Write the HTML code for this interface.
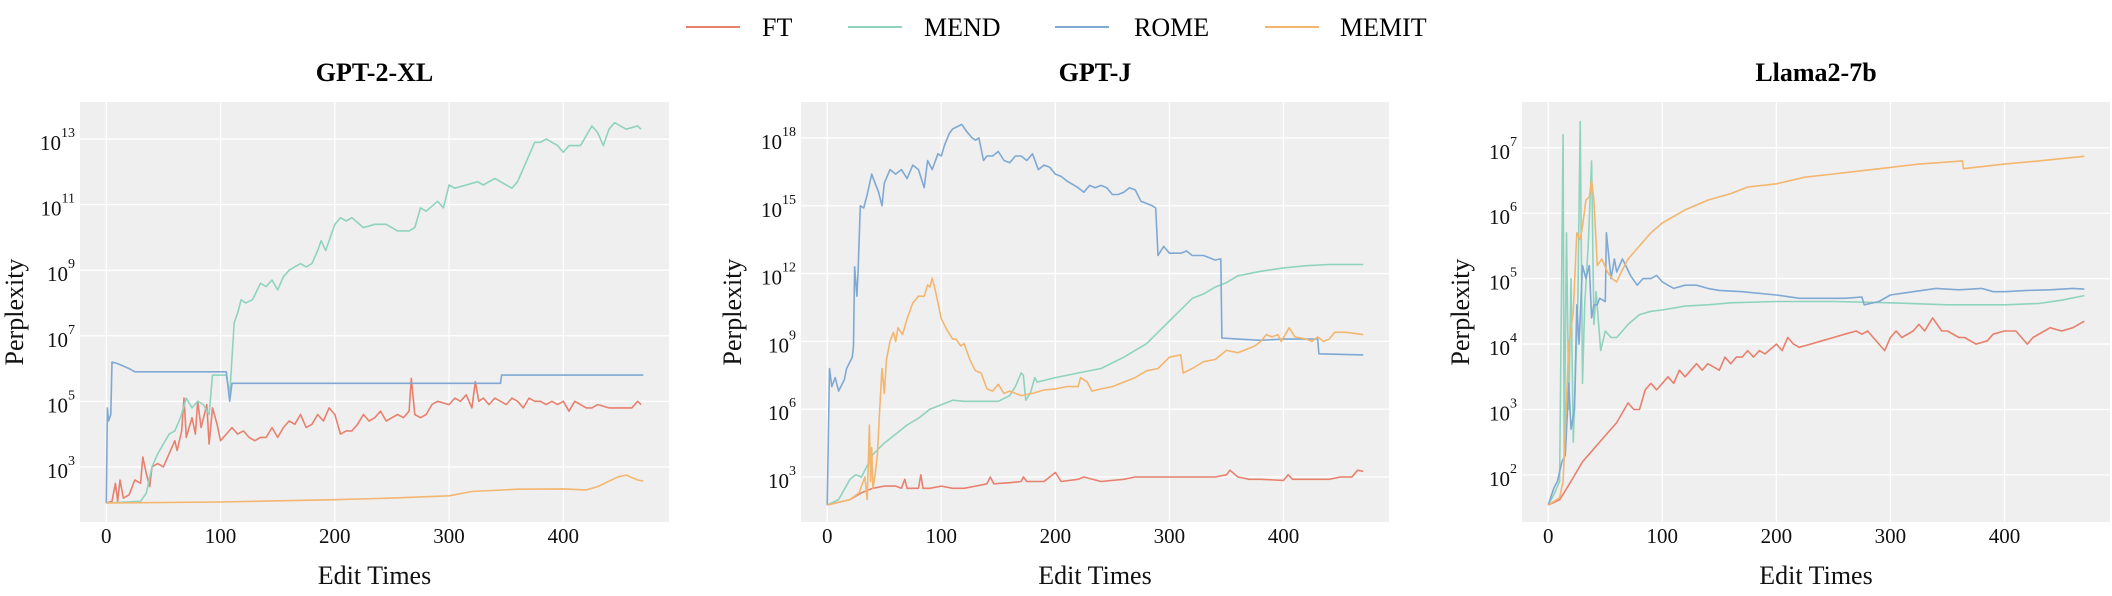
<!DOCTYPE html>
<html><head><meta charset="utf-8">
<style>
html,body{margin:0;padding:0;background:#fff;}
svg{display:block;font-family:"Liberation Serif",serif;}
</style></head>
<body>
<svg id="fig" width="2112" height="596" viewBox="0 0 2112 596" xmlns="http://www.w3.org/2000/svg">
  <g>
    <g><line x1="686" y1="27" x2="740" y2="27" stroke="#e8806e" stroke-width="2"/><text x="762" y="36" font-size="26">FT</text></g>
    <g><line x1="848" y1="27" x2="902" y2="27" stroke="#8fd3bf" stroke-width="2"/><text x="924" y="36" font-size="26">MEND</text></g>
    <g><line x1="1055" y1="27" x2="1109" y2="27" stroke="#7fa9d3" stroke-width="2"/><text x="1134" y="36" font-size="26">ROME</text></g>
    <g><line x1="1265" y1="27" x2="1319" y2="27" stroke="#f3b66f" stroke-width="2"/><text x="1340" y="36" font-size="26">MEMIT</text></g>
  </g>
</svg>
<script>
// values are log10(perplexity); each pair = [edit time, log10 value]
const xTicks = [0,100,200,300,400];
const panelTitles = ["GPT-2-XL","GPT-J","Llama2-7b"];
const yTicks1 = [3,5,7,9,11,13];
const yTicks2 = [3,6,9,12,15,18];
const yTicks3 = [2,3,4,5,6,7];
const seriesNames = ["FT","MEND","ROME","MEMIT"];

const gpt2FT = [[0,1.9],[5,1.95],[8,2.5],[10,1.95],[12,2.6],[15,2.05],[20,2.15],[25,2.6],[30,2.5],[32,3.3],[35,2.8],[38,2.4],[40,3.0],[45,3.1],[50,3.0],[55,3.4],[60,3.8],[62,3.5],[66,4.1],[68,5.1],[70,3.9],[75,4.5],[78,4.0],[80,5.0],[83,4.2],[88,4.9],[90,3.7],[93,4.8],[97,4.3],[100,3.8],[105,4.0],[110,4.2],[115,4.0],[120,4.1],[125,3.9],[130,3.8],[135,3.9],[140,3.9],[145,4.2],[150,3.9],[155,4.2],[160,4.4],[165,4.3],[170,4.6],[175,4.2],[180,4.3],[185,4.6],[190,4.4],[195,4.8],[200,4.6],[205,4.0],[210,4.1],[215,4.1],[220,4.3],[225,4.6],[230,4.4],[235,4.5],[240,4.7],[245,4.4],[250,4.5],[255,4.6],[260,4.5],[265,4.7],[267,5.7],[270,4.6],[275,4.5],[280,4.6],[285,4.9],[290,5.0],[300,4.9],[305,5.1],[310,5.0],[315,5.2],[320,4.8],[323,5.6],[326,5.0],[330,5.1],[335,4.9],[340,5.1],[345,5.0],[350,4.9],[355,5.1],[360,5.0],[365,4.8],[370,5.1],[375,5.0],[380,5.0],[385,4.9],[390,5.0],[395,4.9],[400,5.0],[405,4.7],[410,5.0],[415,4.9],[420,4.8],[425,4.8],[430,4.9],[440,4.8],[450,4.8],[460,4.8],[465,5.0],[468,4.9]];
const gpt2MEND = [[0,1.9],[30,1.95],[35,2.2],[40,3.0],[45,3.4],[50,3.7],[55,4.0],[60,4.1],[65,4.5],[70,5.1],[75,4.8],[80,5.0],[85,4.9],[90,4.6],[93,5.8],[100,5.8],[105,5.8],[108,5.2],[112,7.4],[115,7.7],[118,8.1],[122,8.0],[128,8.1],[135,8.6],[140,8.5],[145,8.7],[150,8.4],[155,8.8],[160,9.0],[170,9.2],[175,9.1],[180,9.2],[185,9.6],[188,9.9],[192,9.6],[195,9.9],[200,10.4],[205,10.6],[210,10.5],[215,10.6],[225,10.3],[235,10.4],[245,10.4],[255,10.2],[265,10.2],[270,10.3],[275,10.9],[280,10.8],[290,11.1],[295,10.9],[300,11.6],[305,11.5],[315,11.6],[325,11.7],[330,11.6],[340,11.8],[345,11.7],[355,11.5],[360,11.7],[365,12.1],[375,12.9],[380,12.9],[385,13.0],[390,12.9],[395,12.8],[400,12.6],[405,12.8],[415,12.8],[425,13.4],[430,13.2],[435,12.8],[440,13.3],[445,13.5],[450,13.4],[455,13.3],[465,13.4],[468,13.3]];
const gpt2ROME = [[0,1.9],[1,4.8],[2,4.4],[4,4.6],[5,6.2],[10,6.15],[20,6.0],[25,5.9],[105,5.9],[108,5.0],[110,5.55],[345,5.55],[346,5.8],[470,5.8]];
const gpt2MEMIT = [[0,1.9],[100,1.93],[200,2.0],[250,2.05],[300,2.12],[320,2.25],[360,2.32],[400,2.33],[420,2.3],[430,2.4],[448,2.7],[455,2.75],[465,2.6],[470,2.57]];

const gptjFT = [[0,1.76],[20,2.0],[30,2.3],[40,2.5],[50,2.6],[60,2.6],[65,2.5],[68,2.9],[70,2.5],[80,2.5],[82,3.1],[84,2.5],[90,2.5],[100,2.6],[110,2.5],[120,2.5],[130,2.6],[140,2.7],[143,3.0],[146,2.7],[160,2.75],[170,2.8],[172,3.0],[175,2.8],[190,2.8],[200,3.2],[205,2.8],[220,2.9],[225,3.0],[240,2.8],[260,2.9],[270,3.0],[290,3.0],[300,3.0],[320,3.0],[340,3.0],[350,3.1],[353,3.3],[360,3.0],[370,2.9],[380,2.9],[400,2.85],[404,3.1],[408,2.9],[420,2.9],[440,2.9],[450,3.0],[460,3.0],[465,3.3],[470,3.25]];
const gptjMEND = [[0,1.76],[10,2.0],[20,2.9],[25,3.1],[30,3.0],[35,3.5],[40,4.0],[50,4.5],[60,4.9],[70,5.3],[80,5.6],[90,6.0],[100,6.2],[110,6.4],[120,6.35],[130,6.35],[150,6.35],[160,6.6],[165,7.0],[170,7.6],[172,7.5],[174,6.4],[178,6.7],[182,7.4],[184,7.2],[200,7.4],[220,7.6],[240,7.8],[260,8.3],[280,8.9],[290,9.4],[300,9.9],[310,10.4],[320,10.9],[330,11.1],[340,11.4],[350,11.6],[360,11.9],[380,12.1],[400,12.25],[420,12.35],[440,12.4],[470,12.4]];
const gptjROME = [[0,1.76],[2,7.8],[4,7.0],[7,7.4],[10,6.8],[15,7.3],[17,7.8],[22,8.3],[23,8.8],[24,12.3],[26,11.0],[27,12.0],[29,15.0],[32,14.9],[35,15.5],[39,16.4],[42,16.0],[45,15.6],[48,15.0],[50,16.0],[55,16.6],[60,16.4],[65,16.6],[70,16.2],[75,16.8],[80,16.6],[85,15.8],[88,17.0],[92,16.6],[97,17.3],[100,17.2],[103,17.7],[107,18.2],[110,18.4],[118,18.6],[122,18.3],[127,18.0],[130,17.9],[133,18.0],[137,17.0],[140,17.2],[145,17.2],[150,17.4],[155,17.0],[160,16.9],[165,17.2],[170,17.2],[175,17.0],[180,17.3],[185,16.6],[190,16.8],[195,16.7],[200,16.4],[205,16.3],[210,16.1],[220,15.8],[225,15.6],[230,15.9],[235,15.8],[240,15.9],[245,15.8],[250,15.5],[255,15.5],[260,15.6],[265,15.8],[270,15.7],[275,15.2],[280,15.1],[285,15.0],[288,14.9],[290,12.8],[295,13.2],[300,12.9],[310,12.9],[315,13.0],[320,12.8],[330,12.8],[340,12.6],[345,12.65],[346,9.15],[360,9.1],[380,9.05],[400,9.1],[430,9.1],[431,8.45],[470,8.4]];
const gptjMEMIT = [[0,1.76],[20,2.0],[28,2.3],[30,2.6],[33,3.0],[35,2.0],[37,5.3],[38,2.8],[39,4.3],[40,2.5],[42,3.1],[44,4.0],[46,6.0],[48,7.8],[50,6.7],[52,8.2],[55,9.0],[58,9.4],[60,9.0],[62,9.6],[66,9.3],[70,10.0],[75,10.7],[80,11.0],[85,11.0],[88,11.5],[90,11.4],[92,11.8],[95,11.2],[100,10.0],[105,9.5],[110,9.1],[113,9.1],[117,8.8],[120,8.9],[125,8.2],[130,7.7],[135,7.6],[140,6.9],[145,6.8],[150,7.1],[155,6.7],[160,6.8],[165,6.7],[170,6.6],[180,6.7],[190,6.85],[200,6.9],[210,7.0],[220,7.0],[222,7.4],[228,7.2],[232,6.8],[240,6.9],[250,7.0],[260,7.2],[270,7.4],[280,7.7],[290,7.8],[300,8.3],[310,8.4],[312,7.6],[320,7.8],[330,8.1],[340,8.2],[350,8.6],[360,8.5],[370,8.7],[375,8.8],[380,9.0],[385,9.3],[390,9.2],[395,9.3],[398,9.0],[405,9.6],[410,9.2],[420,9.1],[425,9.0],[430,9.2],[435,9.0],[440,9.1],[445,9.4],[455,9.4],[470,9.3]];

const llamaFT = [[0,1.54],[10,1.62],[20,1.9],[30,2.2],[40,2.4],[50,2.6],[60,2.8],[70,3.1],[75,3.0],[80,3.0],[85,3.3],[90,3.4],[95,3.3],[100,3.4],[105,3.5],[110,3.4],[115,3.6],[120,3.5],[125,3.6],[130,3.7],[135,3.6],[140,3.7],[150,3.6],[155,3.8],[160,3.7],[165,3.8],[170,3.8],[175,3.9],[180,3.8],[185,3.9],[190,3.85],[200,4.0],[205,3.9],[210,4.1],[215,4.0],[220,3.95],[230,4.0],[240,4.05],[250,4.1],[260,4.15],[270,4.2],[275,4.15],[280,4.2],[290,4.0],[295,3.9],[300,4.1],[305,4.2],[310,4.1],[320,4.2],[325,4.3],[330,4.2],[337,4.4],[345,4.2],[350,4.2],[360,4.1],[365,4.1],[375,4.0],[385,4.05],[390,4.15],[400,4.2],[410,4.2],[420,4.0],[425,4.1],[435,4.2],[440,4.25],[450,4.2],[460,4.25],[470,4.35]];
const llamaMEND = [[0,1.54],[5,1.7],[10,1.9],[13,7.2],[14,2.3],[16,5.7],[18,3.0],[20,5.0],[22,2.5],[26,4.7],[28,7.4],[30,3.4],[32,4.6],[35,5.5],[38,6.8],[40,4.3],[42,4.8],[46,3.9],[50,4.2],[55,4.1],[60,4.1],[65,4.2],[70,4.3],[80,4.45],[90,4.5],[100,4.52],[120,4.58],[140,4.6],[160,4.63],[200,4.65],[250,4.65],[300,4.63],[350,4.6],[400,4.6],[430,4.62],[450,4.67],[470,4.74]];
const llamaROME = [[0,1.54],[5,1.8],[8,1.9],[12,2.2],[15,2.3],[18,3.4],[20,2.7],[23,3.0],[25,4.6],[27,4.0],[30,5.2],[33,5.0],[36,5.2],[38,4.4],[40,4.6],[43,4.6],[45,4.7],[50,4.65],[51,5.7],[55,5.0],[58,5.3],[60,5.1],[65,5.3],[68,5.2],[72,5.05],[78,4.9],[83,5.0],[90,5.0],[95,5.05],[100,4.95],[110,4.85],[120,4.9],[130,4.9],[140,4.85],[150,4.82],[170,4.8],[200,4.75],[220,4.7],[240,4.7],[260,4.7],[275,4.72],[277,4.6],[290,4.65],[300,4.75],[320,4.8],[340,4.85],[360,4.83],[380,4.85],[390,4.8],[400,4.8],[420,4.82],[440,4.83],[460,4.85],[470,4.84]];
const llamaMEMIT = [[0,1.54],[10,1.65],[13,1.9],[15,2.7],[18,4.0],[22,4.5],[25,5.7],[28,5.6],[30,5.8],[33,6.2],[36,6.25],[38,6.5],[40,6.2],[43,5.2],[47,5.3],[52,5.1],[56,5.0],[60,4.95],[64,5.1],[70,5.3],[80,5.5],[90,5.7],[100,5.85],[120,6.05],[140,6.2],[160,6.3],[175,6.4],[200,6.45],[225,6.55],[250,6.6],[275,6.65],[300,6.7],[325,6.75],[363,6.8],[364,6.68],[400,6.75],[430,6.8],[470,6.87]];

const colors = {FT:"#e8806e",MEND:"#8fd3bf",ROME:"#7fa9d3",MEMIT:"#f3b66f"};
const NS = "http://www.w3.org/2000/svg";
const fig = document.getElementById('fig');
function mk(tag, attrs, parent){ const e=document.createElementNS(NS,tag); for(const k in attrs) e.setAttribute(k,attrs[k]); (parent||fig).appendChild(e); return e; }

const panels = [
  {left:80,right:669,yMin:1.32,yMax:14.13,ticks:yTicks1,ylab:14,series:[gpt2FT,gpt2MEND,gpt2ROME,gpt2MEMIT],id:'gpt2-xl'},
  {left:801,right:1389,yMin:1.01,yMax:19.59,ticks:yTicks2,ylab:732,series:[gptjFT,gptjMEND,gptjROME,gptjMEMIT],id:'gpt-j'},
  {left:1522,right:2110,yMin:1.28,yMax:7.70,ticks:yTicks3,ylab:1460,series:[llamaFT,llamaMEND,llamaROME,llamaMEMIT],id:'llama2-7b'}
];
const TOP=102, BOTTOM=522, XMIN=-23, XMAX=492.5;

panels.forEach((p,pi)=>{
  const g = mk('g',{});
  
  
  const xs = v => p.left + (v-XMIN)/(XMAX-XMIN)*(p.right-p.left);
  const ys = v => BOTTOM - (v-p.yMin)/(p.yMax-p.yMin)*(BOTTOM-TOP);
  const bg = mk('rect',{x:p.left,y:TOP,width:p.right-p.left,height:BOTTOM-TOP,fill:'#efefef'},g);
  
  
  xTicks.forEach(t=>{
    const x=xs(t);
    const gl = mk('line',{x1:x,x2:x,y1:TOP,y2:BOTTOM,stroke:'#ffffff','stroke-width':1.3},g);
    
    
    const tl = mk('text',{x:x,y:543,'font-size':21,'text-anchor':'middle',fill:'#111'},g);
    tl.textContent=t;
    
    
  });
  p.ticks.forEach(t=>{
    const y=ys(t);
    const gl = mk('line',{x1:p.left,x2:p.right,y1:y,y2:y,stroke:'#ffffff','stroke-width':1.3},g);
    
    
    const tl = mk('text',{x:p.left-5,y:y+11,'font-size':21,'text-anchor':'end',fill:'#111'},g);
    
    
    const b=document.createElementNS(NS,'tspan'); b.textContent='10'; tl.appendChild(b);
    const s=document.createElementNS(NS,'tspan'); s.setAttribute('dy','-13'); s.setAttribute('font-size','14'); s.textContent=String(t); tl.appendChild(s);
  });
  p.series.forEach((data,si)=>{
    const name=seriesNames[si];
    const d = data.map((pt,i)=>(i?'L':'M')+xs(pt[0]).toFixed(1)+','+ys(pt[1]).toFixed(1)).join(' ');
    const path = mk('path',{d:d,fill:'none',stroke:colors[name],'stroke-width':1.6,'stroke-linejoin':'round'},g);
    
    
  });
  const cx=(p.left+p.right)/2;
  const title = mk('text',{x:cx,y:81,'font-size':26,'font-weight':'bold','text-anchor':'middle',fill:'#000'},g);
  title.textContent=panelTitles[pi];
  
  
  const xl = mk('text',{x:cx,y:584,'font-size':26,'text-anchor':'middle',fill:'#111'},g);
  xl.textContent='Edit Times';
  
  
  const yl = mk('text',{x:0,y:0,'font-size':26,'text-anchor':'middle',fill:'#111',transform:'translate('+(p.ylab+9)+','+((TOP+BOTTOM)/2)+') rotate(-90)'},g);
  yl.textContent='Perplexity';
  
  
});
</script>
</body></html>
